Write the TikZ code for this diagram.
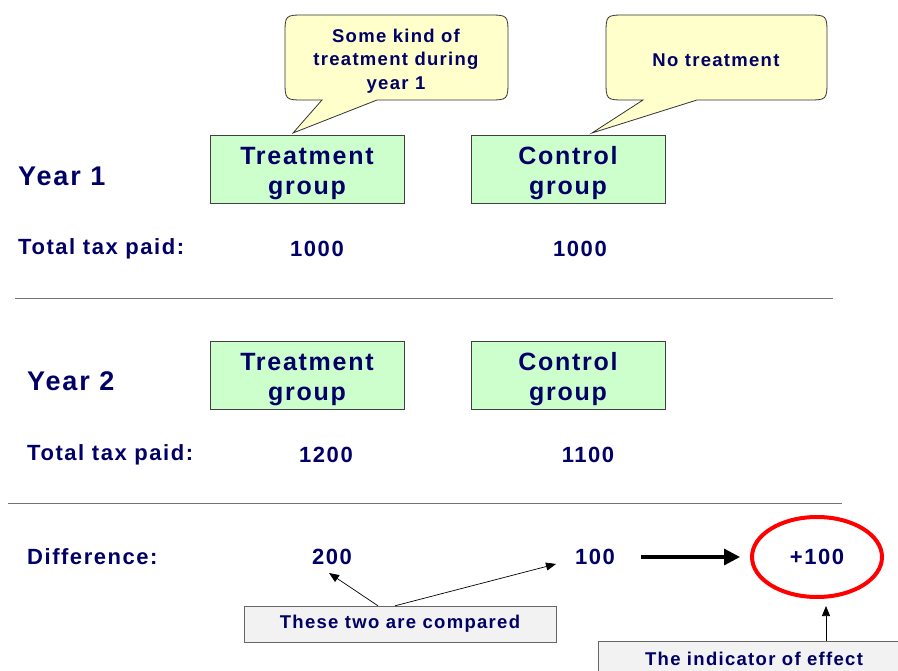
\documentclass[tikz,border=0pt]{standalone}
\usepackage{fontspec}
\setmainfont{Liberation Sans}[LetterSpace=7]
\usetikzlibrary{arrows.meta,shapes.geometric}
\definecolor{navy}{RGB}{0,0,102}
\definecolor{grpgreen}{RGB}{204,255,204}
\definecolor{bubyellow}{RGB}{255,255,204}
\definecolor{notegray}{RGB}{242,242,242}
\newcommand{\grptext}[2]{\raisebox{-3.6pt}[\height][\depth]{\begin{tabular}{@{}c@{}}#1\\#2\end{tabular}}}
\begin{document}
\begin{tikzpicture}[x=1pt,y=-1pt,
  every node/.style={text=navy, inner sep=0pt},
  lab/.style={anchor=west, font=\bfseries\fontsize{22}{26}\selectfont},
  yearlab/.style={anchor=west, font=\bfseries\fontsize{27}{30}\selectfont},
  num/.style={font=\bfseries\fontsize{22}{26}\selectfont},
  grp/.style={draw=black!75, fill=grpgreen, minimum width=194pt, minimum height=68pt, align=center, font=\bfseries\fontsize{25}{30}\selectfont},
  bubble/.style={draw=black!80, fill=bubyellow, line width=0.8pt},
  bubtext/.style={align=center, font=\bfseries\fontsize{18.5}{23.5}\selectfont},
  note/.style={draw=black!60, fill=notegray, align=center, font=\bfseries\fontsize{18.5}{22}\selectfont},
  sep/.style={draw=black!55, line width=0.8pt},
  arr/.style={draw=black, line width=0.7pt, -{Triangle[length=10pt,width=8pt]}},
  bigarr/.style={draw=black, line width=3.2pt, -{Triangle[length=16pt,width=16pt]}}
]
\clip (0,0) rectangle (898,671);
\fill[white] (0,0) rectangle (898,671);

% speech bubbles
\filldraw[bubble] (305,100) -- (322,100) -- (293,133) -- (377,100) -- (488,100)
  .. controls (508,100) .. (508,80) -- (508,35) .. controls (508,15) .. (488,15)
  -- (305,15) .. controls (285,15) .. (285,35) -- (285,80) .. controls (285,100) .. (305,100) -- cycle;
\node[bubtext] (bub1) at (396,61) {Some kind of\\treatment during\\year 1};

\filldraw[bubble] (626,100) -- (643,100) -- (592,133) -- (697,100) -- (807,100)
  .. controls (827,100) .. (827,80) -- (827,35) .. controls (827,15) .. (807,15)
  -- (626,15) .. controls (606,15) .. (606,35) -- (606,80) .. controls (606,100) .. (626,100) -- cycle;
\node[bubtext] (bub2) at (716,60) {No treatment};

% Year 1
\node[yearlab] (y1) at (18,176) {Year 1};
\node[grp] (t1) at (307,169.5) {\grptext{Treatment}{group}};
\node[grp] (c1) at (568,169.5) {\grptext{Control}{group}};
\node[lab] (tax1) at (18,249) {Total tax paid:};
\node[num] (t1v) at (317,249) {1000};
\node[num] (c1v) at (580,249) {1000};
\coordinate (l1a) at (15,298);
\coordinate (l1b) at (833,298);
\draw[sep] (l1a) -- (l1b);

% Year 2
\node[yearlab] (y2) at (27,381) {Year 2};
\node[grp] (t2) at (307,375.5) {\grptext{Treatment}{group}};
\node[grp] (c2) at (568,375.5) {\grptext{Control}{group}};
\node[lab] (tax2) at (27,455) {Total tax paid:};
\node[num] (t2v) at (326,455) {1200};
\node[num] (c2v) at (588,455) {1100};
\coordinate (l2a) at (8,503);
\coordinate (l2b) at (842,503);
\draw[sep] (l2a) -- (l2b);

% Difference
\node[lab] (diff) at (27,557) {Difference:};
\node[num] (d200) at (332,557) {200};
\node[num] (d100) at (595,557) {100};
\node[ellipse, draw=red, line width=4pt, minimum width=130pt, minimum height=80pt,
      font=\bfseries\fontsize{22}{26}\selectfont] (eff) at (817,557) {+100};
\draw[bigarr] ([xshift=26pt]d100.east) -- ([xshift=-10pt]eff.west);

\node[note, minimum width=312pt, minimum height=36pt] (cmp) at (400,624) {These two are compared};
\coordinate (p200) at (329,573);
\coordinate (p100) at (556,564);
\draw[arr] ([xshift=-22pt]cmp.north) -- (p200);
\draw[arr] ([xshift=-5pt]cmp.north) -- (p100);

\node[note, minimum width=312pt, minimum height=36pt] (ind) at (754,659) {The indicator of effect};
\coordinate (pe) at (826,606);
\draw[arr] ([xshift=72pt]ind.north) -- (pe);
\end{tikzpicture}
\end{document}
